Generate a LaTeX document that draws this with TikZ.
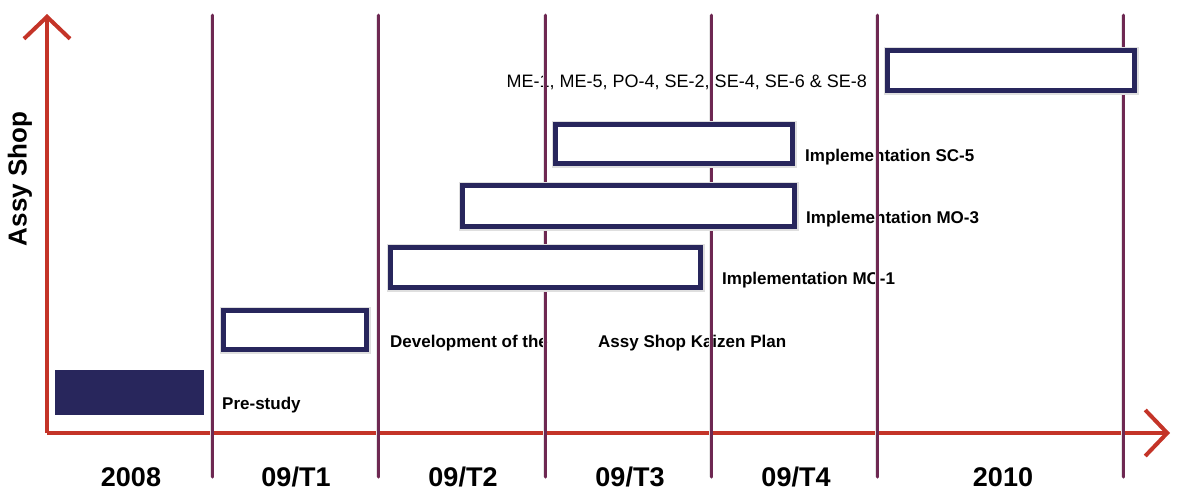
\documentclass[tikz,border=0pt]{standalone}
\usepackage{fontspec}
\setmainfont{Liberation Sans}
\usetikzlibrary{arrows.meta}
\definecolor{navy}{RGB}{40,38,92}
\definecolor{axisred}{RGB}{196,52,40}
\definecolor{gridplum}{RGB}{110,40,82}
\pgfdeclarelayer{textlayer}
\pgfdeclarelayer{gridlayer}
\pgfsetlayers{textlayer,gridlayer,main}

\begin{document}
\begin{tikzpicture}[
    x=1pt, y=-1pt,
    task/.style={draw=navy, line width=5pt, fill=white, inner sep=0pt, preaction={draw=gray!25, line width=8pt}},
    tasklbl/.style={anchor=west, inner sep=0pt, font=\fontsize{17}{20}\selectfont\bfseries},
    year/.style={inner sep=0pt, font=\fontsize{27}{30}\selectfont\bfseries},
    divline/.style={gridplum, line width=3pt, line cap=round, preaction={draw=gray!20, line width=4.5pt}},
    axis/.style={axisred, line width=4pt, -{Straight Barb[length=22pt, width=46pt]}}
]
\useasboundingbox (0,0) rectangle (1178,491);

% bars of the plan
\node[draw=navy, fill=navy, line width=1pt, inner sep=0pt, minimum width=148pt, minimum height=44pt] (pre) at (129.5,392.5) {};
\node[task, minimum width=143pt, minimum height=39pt] (dev) at (295,330) {};
\node[task, minimum width=310pt, minimum height=40pt] (moone) at (545.5,267.5) {};
\node[task, minimum width=332pt, minimum height=41pt] (mothree) at (628.5,206) {};
\node[task, minimum width=237pt, minimum height=39pt] (scfive) at (674,144) {};
\node[task, minimum width=247pt, minimum height=40pt] (rest) at (1011,70.5) {};

% labels, under the period lines
\begin{pgfonlayer}{textlayer}
\node[tasklbl] (prelbl) at (222,405) {Pre-study};
\node[tasklbl] (devlbl) at (390,343) {Development of the};
\node[tasklbl] (kaizenlbl) at (598,343) {Assy Shop Kaizen Plan};
\node[tasklbl] (moonelbl) at (722,280) {Implementation MO-1};
\node[tasklbl] (mothreelbl) at (806,219) {Implementation MO-3};
\node[tasklbl] (scfivelbl) at (805,157) {Implementation SC-5};
\node[anchor=east, inner sep=0pt, font=\fontsize{18}{21}\selectfont] (restlbl) at (867,82) {ME-1, ME-5, PO-4, SE-2, SE-4, SE-6 \& SE-8};
\node[rotate=90, inner sep=0pt, font=\fontsize{26}{30}\selectfont\bfseries] (shoplbl) at (20,179) {Assy Shop};
\end{pgfonlayer}

% axes and period lines
\begin{pgfonlayer}{gridlayer}
\coordinate (origin) at (47,433);
\coordinate (ytip) at (47,14);
\coordinate (xtip) at (1170,433);
\draw[axis] (origin) -- (ytip);
\draw[axis] (origin) -- (xtip);
\foreach \xl in {212,378,545,711,877,1123}
    \draw[divline] (\xl,15) -- (\xl,477);
\end{pgfonlayer}

% periods
\node[year] (yone) at (131,477) {2008};
\node[year] (ytwo) at (296,477) {09/T1};
\node[year] (ythree) at (463,477) {09/T2};
\node[year] (yfour) at (630,477) {09/T3};
\node[year] (yfive) at (796,477) {09/T4};
\node[year] (ysix) at (1003,477) {2010};
\end{tikzpicture}
\end{document}
